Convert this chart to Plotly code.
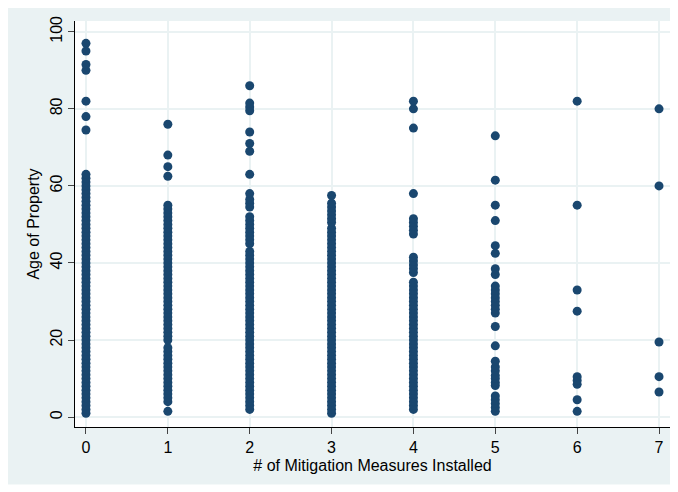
import plotly.graph_objects as go

# Data: ages of property per number of mitigation measures
ages_0 = [1, 2, 3, 4, 5, 6, 7, 8, 9, 10, 11, 12, 13, 14, 15, 16, 17, 18, 19, 20,
          21, 22, 23, 24, 25, 26, 27, 28, 29, 30, 31, 32, 33, 34, 35, 36, 37, 38, 39, 40,
          41, 42, 43, 44, 45, 46, 47, 48, 49, 50, 51, 52, 53, 54, 55, 56, 57, 58, 59, 60,
          61, 62, 63, 74.5, 78, 82, 90, 91.5, 95, 97]
ages_1 = [1.5, 4, 5, 6, 7, 8, 9, 10, 11, 12, 13, 14, 15, 16, 17, 18,
          20, 21, 22, 23, 24, 25, 26, 27, 28, 29, 30, 31, 32, 33, 34, 35, 36, 37, 38, 39,
          40, 41, 42, 43, 44, 45, 46, 47, 48, 49, 50, 51, 52, 53, 54, 55,
          62.5, 65, 68, 76]
ages_2 = [2, 3, 4, 5, 6, 7, 8, 9, 10, 11, 12, 13, 14, 15, 16, 17, 18, 19, 20, 21,
          22, 23, 24, 25, 26, 27, 28, 29, 30, 31, 32, 33, 34, 35, 36, 37, 38, 39, 40, 41,
          42, 43, 45, 46, 47, 48, 49, 50, 51, 52, 54.5, 55.5, 56.5, 58, 63, 69, 71, 74,
          79.5, 80.5, 81.5, 86]
ages_3 = [1, 2, 3, 4, 5, 6, 7, 8, 9, 10, 11, 12, 13, 14, 15, 16, 17, 18, 19, 20,
          21, 22, 23, 24, 25, 26, 27, 28, 29, 30, 31, 32, 33, 34, 35, 36, 37, 38, 39, 40,
          41, 42, 43, 44, 45, 46, 47, 48, 49, 50.5, 51.5, 52.5, 53.5, 54.5, 55.5, 57.5]
ages_4 = [2, 3, 4, 5, 6, 7, 8, 9, 10, 11, 12, 13, 14, 15, 16, 17, 18, 19, 20, 21,
          22, 23, 24, 25, 26, 27, 28, 29, 30, 31, 32, 33, 34, 35,
          37.5, 38.5, 39.5, 40.5, 41.5, 47.5, 48.5, 49.5, 50.5, 51.5, 58, 75, 80, 82]
ages_5 = [1.5, 2.5, 3.5, 4.5, 5.5, 8.2, 9, 10, 10.8, 12, 13, 14.5, 18.5, 23.5,
          27, 28, 29, 30, 31, 32, 33, 34, 37, 38.5, 42.5, 44.5, 51, 55, 61.5, 73]
ages_6 = [1.5, 4.5, 8.5, 9.5, 10.5, 27.5, 33, 55, 82]
ages_7 = [6.5, 10.5, 19.5, 60, 80]

measures = [0, 1, 2, 3, 4, 5, 6, 7]
age_groups = [ages_0, ages_1, ages_2, ages_3, ages_4, ages_5, ages_6, ages_7]

x_tick_vals = [0, 1, 2, 3, 4, 5, 6, 7]
y_tick_vals = [0, 20, 40, 60, 80, 100]

xs, ys = [], []
for m, ages in zip(measures, age_groups):
    xs.extend([m] * len(ages))
    ys.extend(ages)

navy = "#1A476F"
bg = "#EAF2F3"
font_family = "Liberation Sans, Arial, Helvetica, sans-serif"

fig = go.Figure()
fig.add_trace(go.Scatter(
    x=xs, y=ys, mode="markers",
    marker=dict(color=navy, size=9, line=dict(width=0)),
    hoverinfo="x+y", showlegend=False,
))

fig.update_layout(
    width=670, height=484,
    margin=dict(l=67, r=8, t=9, b=65),
    paper_bgcolor=bg,
    plot_bgcolor="white",
    font=dict(family=font_family, size=16, color="black"),
    xaxis=dict(
        range=[-0.134, 7.134],
        tickvals=x_tick_vals,
        ticks="outside", ticklen=6, tickcolor="#444", tickwidth=1,
        showline=True, linecolor="black", linewidth=1.2,
        showgrid=True, gridcolor=bg, gridwidth=1.5,
        zeroline=False,
        title=dict(text="# of Mitigation Measures Installed", standoff=4,
                   font=dict(size=16)),
        tickfont=dict(size=16),
    ),
    yaxis=dict(
        range=[-2.57, 102.8],
        tickvals=y_tick_vals,
        tickangle=-90,
        ticks="outside", ticklen=6, tickcolor="#444", tickwidth=1,
        showline=True, linecolor="black", linewidth=1.2,
        showgrid=True, gridcolor=bg, gridwidth=1.5,
        zeroline=False,
        title=dict(text="Age of Property", standoff=3, font=dict(size=16)),
        tickfont=dict(size=16),
    ),
    shapes=[
        dict(type="rect", xref="paper", yref="paper",
             x0=-0.2, x1=1.1, y0=-0.2, y1=-0.1415,
             fillcolor="white", line=dict(width=0), layer="below"),
    ],
)

fig.write_html("out.html")
